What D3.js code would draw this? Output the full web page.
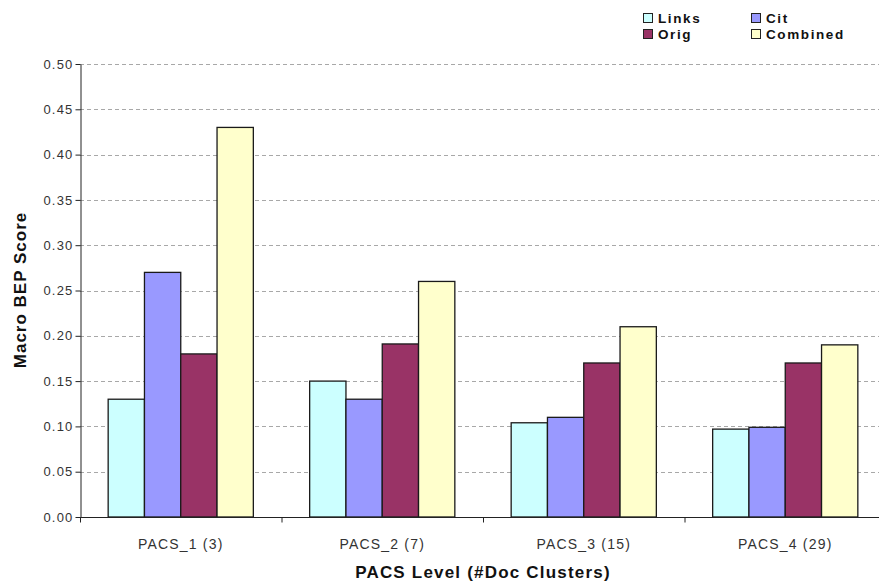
<!DOCTYPE html>
<html><head><meta charset="utf-8">
<script src="https://cdn.jsdelivr.net/npm/d3@7"></script>
<style>body{margin:0;background:#fff}svg{display:block}text{font-family:Arial,"Liberation Sans",sans-serif}</style>
</head><body>
<svg id="c" width="879" height="583"></svg>
<script>
const categories = ["PACS_1 (3)", "PACS_2 (7)", "PACS_3 (15)", "PACS_4 (29)"];
const seriesNames = ["Links", "Cit", "Orig", "Combined"];
const links = [0.13, 0.15, 0.104, 0.097];
const cit = [0.27, 0.13, 0.11, 0.099];
const orig = [0.18, 0.191, 0.17, 0.17];
const combined = [0.43, 0.26, 0.21, 0.19];
const colors = ["#CCFFFF", "#9999FF", "#993366", "#FFFFCC"];
const yTicks = [0, 0.05, 0.10, 0.15, 0.20, 0.25, 0.30, 0.35, 0.40, 0.45, 0.50];

(function () {
const values = [links, cit, orig, combined];
const svg = d3.select("#c");
const pL = 80, pR = 886, pT = 64, pB = 517;

const x = d3.scaleBand().domain(categories).range([pL, pR]).padding(0);
const xi = d3.scaleBand().domain(seriesNames).range([0, x.bandwidth()]).paddingInner(0).paddingOuter(0.776);
const y = d3.scaleLinear().domain([0, 0.5]).range([pB, pT]);

// gridlines
svg.append("g").selectAll("line").data(yTicks.slice(1)).join("line")
  .attr("x1", pL).attr("x2", pR)
  .attr("y1", d => Math.round(y(d)) + 0.5).attr("y2", d => Math.round(y(d)) + 0.5)
  .attr("stroke", "#a8a8a8").attr("stroke-dasharray", "4,3").attr("stroke-width", 1);

// bars
const g = svg.append("g");
seriesNames.forEach((s, si) => {
  g.selectAll(null).data(categories).join("rect")
    .attr("x", (c) => x(c) + xi(s))
    .attr("y", (c, i) => y(values[si][i]))
    .attr("width", xi.bandwidth())
    .attr("height", (c, i) => pB - y(values[si][i]))
    .attr("fill", colors[si])
    .attr("stroke", "#1a1a1a").attr("stroke-width", 1.3);
});

// y axis
const yAxis = d3.axisLeft(y).tickValues(yTicks).tickFormat(d3.format(".2f")).tickSize(5).tickSizeOuter(0);
const ya = svg.append("g").attr("transform", `translate(${pL + 0.5},0)`).call(yAxis);
ya.select(".domain").attr("stroke", "#222");
ya.selectAll(".tick line").attr("stroke", "#222");
ya.selectAll(".tick text").attr("font-size", 13).attr("letter-spacing", 1.2).attr("fill", "#333").attr("x", -7)
  .attr("font-family", "Arial, 'Liberation Sans', sans-serif");

// x axis
const xa = svg.append("g").attr("transform", `translate(0,${pB + 0.5})`);
xa.append("line").attr("x1", pL).attr("x2", pR).attr("stroke", "#222");
xa.selectAll(".tk").data(categories.concat([null])).join("line")
  .attr("x1", (d, i) => pL + i * x.step() + 0.5).attr("x2", (d, i) => pL + i * x.step() + 0.5)
  .attr("y1", 0).attr("y2", 5).attr("stroke", "#222");
xa.selectAll("text").data(categories).join("text")
  .attr("x", d => x(d) + x.bandwidth() / 2).attr("y", 31)
  .attr("text-anchor", "middle").attr("font-size", 14).attr("letter-spacing", 1.2).attr("fill", "#333").text(d => d);

// axis titles
svg.append("text").attr("x", 483).attr("y", 578).attr("text-anchor", "middle")
  .attr("font-size", 17).attr("font-weight", "bold").attr("letter-spacing", 1.2).attr("fill", "#111").text("PACS Level (#Doc Clusters)");
svg.append("text").attr("transform", "translate(26,290) rotate(-90)").attr("text-anchor", "middle")
  .attr("font-size", 17).attr("font-weight", "bold").attr("letter-spacing", 1).attr("fill", "#111").text("Macro BEP Score");

// legend
const legPos = [[643, 13], [751, 13], [643, 29], [751, 29]];
const leg = svg.append("g");
seriesNames.forEach((s, i) => {
  const [lx, ly] = legPos[i];
  leg.append("rect").attr("x", lx + 0.5).attr("y", ly + 0.5).attr("width", 9).attr("height", 9)
    .attr("fill", colors[i]).attr("stroke", "#222").attr("stroke-width", 1);
  leg.append("text").attr("x", lx + 15).attr("y", ly + 10).attr("font-size", 13.5)
    .attr("font-weight", "bold").attr("letter-spacing", 1.6).attr("fill", "#111").text(s);
});
})();
</script>
</body></html>
